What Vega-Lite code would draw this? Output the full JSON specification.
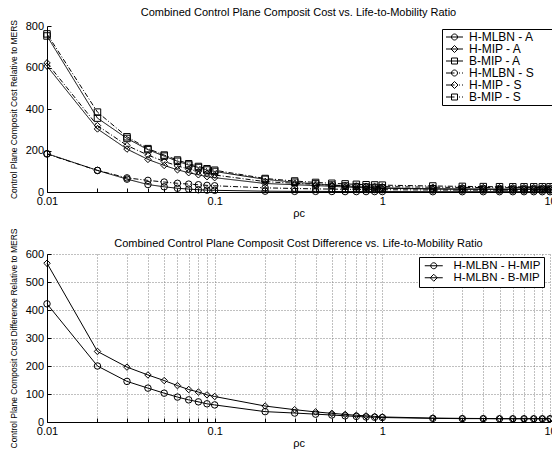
{
  "$schema": "https://vega.github.io/schema/vega-lite/v6.json",
  "background": "white",
  "padding": {"left": 8, "top": 7, "right": 0, "bottom": 0},
  "datasets": {
    "top": [
      {"rho": 0.01, "H-MLBN - A": 185, "H-MIP - A": 607, "B-MIP - A": 752, "H-MLBN - S": 183, "H-MIP - S": 622, "B-MIP - S": 762},
      {"rho": 0.02, "H-MLBN - A": 104, "H-MIP - A": 304, "B-MIP - A": 356, "H-MLBN - S": 104, "H-MIP - S": 320, "B-MIP - S": 385},
      {"rho": 0.03, "H-MLBN - A": 62, "H-MIP - A": 207, "B-MIP - A": 258, "H-MLBN - S": 68, "H-MIP - S": 224, "B-MIP - S": 266},
      {"rho": 0.04, "H-MLBN - A": 36, "H-MIP - A": 157, "B-MIP - A": 204, "H-MLBN - S": 56, "H-MIP - S": 178, "B-MIP - S": 209},
      {"rho": 0.05, "H-MLBN - A": 25, "H-MIP - A": 128, "B-MIP - A": 173, "H-MLBN - S": 48, "H-MIP - S": 147, "B-MIP - S": 178},
      {"rho": 0.06, "H-MLBN - A": 18, "H-MIP - A": 107, "B-MIP - A": 148, "H-MLBN - S": 42, "H-MIP - S": 126, "B-MIP - S": 154},
      {"rho": 0.07, "H-MLBN - A": 14, "H-MIP - A": 93, "B-MIP - A": 130, "H-MLBN - S": 38, "H-MIP - S": 110, "B-MIP - S": 136},
      {"rho": 0.08, "H-MLBN - A": 11, "H-MIP - A": 83, "B-MIP - A": 118, "H-MLBN - S": 35, "H-MIP - S": 99, "B-MIP - S": 123},
      {"rho": 0.09, "H-MLBN - A": 9, "H-MIP - A": 74, "B-MIP - A": 106, "H-MLBN - S": 32, "H-MIP - S": 90, "B-MIP - S": 112},
      {"rho": 0.1, "H-MLBN - A": 8, "H-MIP - A": 69, "B-MIP - A": 99, "H-MLBN - S": 30, "H-MIP - S": 82, "B-MIP - S": 105},
      {"rho": 0.2, "H-MLBN - A": 4, "H-MIP - A": 41, "B-MIP - A": 61, "H-MLBN - S": 20, "H-MIP - S": 50, "B-MIP - S": 65},
      {"rho": 0.3, "H-MLBN - A": 3, "H-MIP - A": 35, "B-MIP - A": 47, "H-MLBN - S": 17, "H-MIP - S": 42, "B-MIP - S": 53},
      {"rho": 0.4, "H-MLBN - A": 3, "H-MIP - A": 31, "B-MIP - A": 39, "H-MLBN - S": 15, "H-MIP - S": 37, "B-MIP - S": 46},
      {"rho": 0.5, "H-MLBN - A": 2.5, "H-MIP - A": 27.5, "B-MIP - A": 33.5, "H-MLBN - S": 14, "H-MIP - S": 33, "B-MIP - S": 42},
      {"rho": 0.6, "H-MLBN - A": 2, "H-MIP - A": 24, "B-MIP - A": 29, "H-MLBN - S": 13, "H-MIP - S": 31, "B-MIP - S": 39},
      {"rho": 0.7, "H-MLBN - A": 2, "H-MIP - A": 22, "B-MIP - A": 26, "H-MLBN - S": 12.5, "H-MIP - S": 29, "B-MIP - S": 37},
      {"rho": 0.8, "H-MLBN - A": 2, "H-MIP - A": 20, "B-MIP - A": 24, "H-MLBN - S": 12, "H-MIP - S": 28, "B-MIP - S": 35},
      {"rho": 0.9, "H-MLBN - A": 2, "H-MIP - A": 19, "B-MIP - A": 22, "H-MLBN - S": 11.5, "H-MIP - S": 27, "B-MIP - S": 34},
      {"rho": 1, "H-MLBN - A": 2, "H-MIP - A": 18, "B-MIP - A": 20, "H-MLBN - S": 11, "H-MIP - S": 26, "B-MIP - S": 33},
      {"rho": 2, "H-MLBN - A": 1.5, "H-MIP - A": 14.5, "B-MIP - A": 15.5, "H-MLBN - S": 9.5, "H-MIP - S": 23, "B-MIP - S": 29},
      {"rho": 3, "H-MLBN - A": 1.5, "H-MIP - A": 13.5, "B-MIP - A": 14.5, "H-MLBN - S": 9, "H-MIP - S": 22, "B-MIP - S": 27},
      {"rho": 4, "H-MLBN - A": 1.5, "H-MIP - A": 13.5, "B-MIP - A": 14, "H-MLBN - S": 9, "H-MIP - S": 21.5, "B-MIP - S": 26},
      {"rho": 5, "H-MLBN - A": 1.5, "H-MIP - A": 13, "B-MIP - A": 13.5, "H-MLBN - S": 9, "H-MIP - S": 21, "B-MIP - S": 25.5},
      {"rho": 6, "H-MLBN - A": 1.5, "H-MIP - A": 13, "B-MIP - A": 13.5, "H-MLBN - S": 9, "H-MIP - S": 21, "B-MIP - S": 25},
      {"rho": 7, "H-MLBN - A": 1.5, "H-MIP - A": 13, "B-MIP - A": 13.5, "H-MLBN - S": 9, "H-MIP - S": 21, "B-MIP - S": 25},
      {"rho": 8, "H-MLBN - A": 1.5, "H-MIP - A": 13, "B-MIP - A": 13.5, "H-MLBN - S": 9, "H-MIP - S": 21, "B-MIP - S": 25},
      {"rho": 9, "H-MLBN - A": 1.5, "H-MIP - A": 13, "B-MIP - A": 13.5, "H-MLBN - S": 9, "H-MIP - S": 21, "B-MIP - S": 25},
      {"rho": 10, "H-MLBN - A": 1.5, "H-MIP - A": 13, "B-MIP - A": 13.5, "H-MLBN - S": 9, "H-MIP - S": 21, "B-MIP - S": 25}
    ],
    "bottom": [
      {"rho": 0.01, "H-MLBN - H-MIP": 422, "H-MLBN - B-MIP": 567},
      {"rho": 0.02, "H-MLBN - H-MIP": 200, "H-MLBN - B-MIP": 252},
      {"rho": 0.03, "H-MLBN - H-MIP": 145, "H-MLBN - B-MIP": 196},
      {"rho": 0.04, "H-MLBN - H-MIP": 121, "H-MLBN - B-MIP": 168},
      {"rho": 0.05, "H-MLBN - H-MIP": 103, "H-MLBN - B-MIP": 148},
      {"rho": 0.06, "H-MLBN - H-MIP": 89, "H-MLBN - B-MIP": 130},
      {"rho": 0.07, "H-MLBN - H-MIP": 79, "H-MLBN - B-MIP": 116},
      {"rho": 0.08, "H-MLBN - H-MIP": 72, "H-MLBN - B-MIP": 107},
      {"rho": 0.09, "H-MLBN - H-MIP": 65, "H-MLBN - B-MIP": 97},
      {"rho": 0.1, "H-MLBN - H-MIP": 61, "H-MLBN - B-MIP": 91},
      {"rho": 0.2, "H-MLBN - H-MIP": 37, "H-MLBN - B-MIP": 57},
      {"rho": 0.3, "H-MLBN - H-MIP": 32, "H-MLBN - B-MIP": 44},
      {"rho": 0.4, "H-MLBN - H-MIP": 28, "H-MLBN - B-MIP": 36},
      {"rho": 0.5, "H-MLBN - H-MIP": 25, "H-MLBN - B-MIP": 31},
      {"rho": 0.6, "H-MLBN - H-MIP": 22, "H-MLBN - B-MIP": 27},
      {"rho": 0.7, "H-MLBN - H-MIP": 20, "H-MLBN - B-MIP": 24},
      {"rho": 0.8, "H-MLBN - H-MIP": 18, "H-MLBN - B-MIP": 22},
      {"rho": 0.9, "H-MLBN - H-MIP": 17, "H-MLBN - B-MIP": 20},
      {"rho": 1, "H-MLBN - H-MIP": 16, "H-MLBN - B-MIP": 18},
      {"rho": 2, "H-MLBN - H-MIP": 13, "H-MLBN - B-MIP": 14},
      {"rho": 3, "H-MLBN - H-MIP": 12, "H-MLBN - B-MIP": 13},
      {"rho": 4, "H-MLBN - H-MIP": 12, "H-MLBN - B-MIP": 12.5},
      {"rho": 5, "H-MLBN - H-MIP": 11.5, "H-MLBN - B-MIP": 12},
      {"rho": 6, "H-MLBN - H-MIP": 11.5, "H-MLBN - B-MIP": 12},
      {"rho": 7, "H-MLBN - H-MIP": 11.5, "H-MLBN - B-MIP": 12},
      {"rho": 8, "H-MLBN - H-MIP": 11.5, "H-MLBN - B-MIP": 12},
      {"rho": 9, "H-MLBN - H-MIP": 11.5, "H-MLBN - B-MIP": 12},
      {"rho": 10, "H-MLBN - H-MIP": 11.5, "H-MLBN - B-MIP": 12}
    ]
  },
  "spacing": 62,
  "bounds": "flush",
  "resolve": {"scale": {"shape": "independent", "strokeDash": "independent"}, "legend": {"shape": "independent"}},
  "vconcat": [
    {
      "width": 503,
      "height": 166,
      "title": {"text": "Combined Control Plane Composit Cost vs. Life-to-Mobility Ratio", "offset": 1},
      "data": {"name": "top"},
      "transform": [{"fold": ["H-MLBN - A", "H-MIP - A", "B-MIP - A", "H-MLBN - S", "H-MIP - S", "B-MIP - S"], "as": ["series", "cost"]}],
      "resolve": {"scale": {"shape": "independent"}, "legend": {"shape": "independent"}},
      "encoding": {
        "x": {
          "field": "rho", "type": "quantitative",
          "scale": {"type": "log", "domain": [0.01, 10], "nice": false},
          "axis": {
            "grid": false,
            "values": [0.01, 0.02, 0.03, 0.04, 0.05, 0.06, 0.07, 0.08, 0.09, 0.1, 0.2, 0.3, 0.4, 0.5, 0.6, 0.7, 0.8, 0.9, 1, 2, 3, 4, 5, 6, 7, 8, 9, 10],
            "labelExpr": "datum.value == 0.01 ? '0.01' : datum.value == 0.1 ? '0.1' : datum.value == 1 ? '1' : datum.value == 10 ? '10' : ''",
            "title": "ρc",
            "titleFontSize": 11,
            "titlePadding": 1
          }
        },
        "y": {
          "field": "cost", "type": "quantitative",
          "scale": {"domain": [0, 800], "nice": false},
          "axis": {
            "grid": false,
            "values": [0, 200, 400, 600, 800],
            "title": "Control Plane Composit Cost Relative to MERS",
            "titleX": -34,
            "titleBaseline": "middle",
            "titleFontSize": 8.5
          }
        }
      },
      "layer": [
        {
          "mark": {"type": "line", "color": "black", "strokeWidth": 1},
          "encoding": {
            "detail": {"field": "series"},
            "strokeDash": {
              "field": "series", "type": "nominal",
              "scale": {"domain": ["H-MLBN - S", "H-MIP - S", "B-MIP - S", "H-MLBN - A", "H-MIP - A", "B-MIP - A"], "range": [[5, 2, 1, 2], [5, 2, 1, 2], [5, 2, 1, 2], [1, 0], [1, 0], [1, 0]]},
              "legend": null
            }
          }
        },
        {
          "mark": {"type": "point", "filled": false, "color": "black", "size": 42, "strokeWidth": 1, "opacity": 1},
          "encoding": {
            "shape": {
              "field": "series", "type": "nominal",
              "scale": {"domain": ["B-MIP - S", "H-MIP - S", "H-MLBN - S", "B-MIP - A", "H-MIP - A", "H-MLBN - A"], "range": ["square", "diamond", "circle", "square", "diamond", "circle"]},
              "legend": null
            }
          }
        },
        {
          "transform": [{"filter": "false"}],
          "mark": {"type": "point", "filled": false, "color": "black", "strokeWidth": 1, "opacity": 1},
          "encoding": {
            "shape": {
              "field": "series", "type": "nominal",
              "scale": {
                "domain": ["H-MLBN - A", "H-MIP - A", "B-MIP - A", "H-MLBN - S", "H-MIP - S", "B-MIP - S"],
                "range": [
                  "M-0.8,0H2.6M1.5,0A0.6,0.6,0,1,1,0.3,0A0.6,0.6,0,1,1,1.5,0",
                  "M-0.8,0H2.6M0.9,-0.7L1.6,0L0.9,0.7L0.2,0Z",
                  "M-0.8,0H2.6M0.3,-0.6H1.5V0.6H0.3Z",
                  "M-0.8,0H0.9M1.8,0H2.0M2.4,0H2.6M1.5,0A0.6,0.6,0,1,1,0.3,0A0.6,0.6,0,1,1,1.5,0",
                  "M-0.8,0H0.9M1.8,0H2.0M2.4,0H2.6M0.9,-0.7L1.6,0L0.9,0.7L0.2,0Z",
                  "M-0.8,0H0.9M1.8,0H2.0M2.4,0H2.6M0.3,-0.6H1.5V0.6H0.3Z"
                ]
              },
              "legend": {
                "title": null, "orient": "none", "legendX": 395, "legendY": 3,
                "strokeColor": "black", "fillColor": "white", "padding": 2,
                "labelFontSize": 12, "labelColor": "black", "labelOffset": 13, "rowPadding": -2.4,
                "symbolSize": 100, "symbolOpacity": 1, "symbolStrokeColor": "black", "symbolFillColor": "transparent", "symbolStrokeWidth": 1,
                "labelExpr": "datum.label + '\u2800\u2800'"
              }
            }
          }
        }
      ]
    },
    {
      "width": 503,
      "height": 168,
      "title": {"text": "Combined Control Plane Composit Cost Difference vs. Life-to-Mobility Ratio", "offset": -21},
      "data": {"name": "bottom"},
      "transform": [{"fold": ["H-MLBN - H-MIP", "H-MLBN - B-MIP"], "as": ["series", "diff"]}],
      "resolve": {"scale": {"shape": "independent"}, "legend": {"shape": "independent"}},
      "encoding": {
        "x": {
          "field": "rho", "type": "quantitative",
          "scale": {"type": "log", "domain": [0.01, 10], "nice": false},
          "axis": {
            "grid": true,
            "values": [0.01, 0.02, 0.03, 0.04, 0.05, 0.06, 0.07, 0.08, 0.09, 0.1, 0.2, 0.3, 0.4, 0.5, 0.6, 0.7, 0.8, 0.9, 1, 2, 3, 4, 5, 6, 7, 8, 9, 10],
            "labelExpr": "datum.value == 0.01 ? '0.01' : datum.value == 0.1 ? '0.1' : datum.value == 1 ? '1' : datum.value == 10 ? '10' : ''",
            "title": "ρc",
            "titleFontSize": 11,
            "titlePadding": 1
          }
        },
        "y": {
          "field": "diff", "type": "quantitative",
          "scale": {"domain": [0, 600], "nice": false},
          "axis": {
            "grid": true,
            "values": [0, 100, 200, 300, 400, 500, 600],
            "title": "Control Plane Composit Cost Difference Relative to MERS",
            "titleX": -34,
            "titleBaseline": "middle",
            "titleFontSize": 8.5
          }
        }
      },
      "layer": [
        {
          "mark": {"type": "line", "color": "black", "strokeWidth": 1},
          "encoding": {"detail": {"field": "series"}}
        },
        {
          "mark": {"type": "point", "filled": false, "color": "black", "size": 42, "strokeWidth": 1, "opacity": 1},
          "encoding": {
            "shape": {
              "field": "series", "type": "nominal",
              "scale": {"domain": ["H-MLBN - B-MIP", "H-MLBN - H-MIP"], "range": ["diamond", "circle"]},
              "legend": null
            }
          }
        },
        {
          "transform": [{"filter": "false"}],
          "mark": {"type": "point", "filled": false, "color": "black", "strokeWidth": 1, "opacity": 1},
          "encoding": {
            "shape": {
              "field": "series", "type": "nominal",
              "scale": {
                "domain": ["H-MLBN - H-MIP", "H-MLBN - B-MIP"],
                "range": [
                  "M-0.6,0H3.0M1.8,0A0.6,0.6,0,1,1,0.6,0A0.6,0.6,0,1,1,1.8,0",
                  "M-0.6,0H3.0M1.2,-0.7L1.9,0L1.2,0.7L0.5,0Z"
                ]
              },
              "legend": {
                "title": null, "orient": "none", "legendX": 372, "legendY": 3,
                "strokeColor": "black", "fillColor": "white", "padding": 3,
                "labelFontSize": 11.5, "labelColor": "black", "labelOffset": 20, "rowPadding": -7,
                "symbolSize": 100, "symbolOpacity": 1, "symbolStrokeColor": "black", "symbolFillColor": "transparent", "symbolStrokeWidth": 1
              }
            }
          }
        }
      ]
    }
  ],
  "config": {
    "font": "Liberation Sans",
    "view": {"stroke": null},
    "title": {"fontSize": 11, "fontWeight": "normal", "color": "black", "anchor": "middle", "font": "Liberation Sans"},
    "legend": {"labelFont": "Liberation Sans"},
    "axis": {
      "domainColor": "black", "domainWidth": 1,
      "tickColor": "black", "tickWidth": 1, "tickSize": -4,
      "labelColor": "black", "labelFont": "Liberation Sans", "labelFontSize": 11,
      "labelFlush": false, "labelOverlap": false, "labelPadding": 7.5,
      "titleFont": "Liberation Sans", "titleFontWeight": "normal", "titleColor": "black",
      "gridColor": "#808080", "gridDash": [1, 2], "gridOpacity": 1, "gridWidth": 1
    }
  }
}
